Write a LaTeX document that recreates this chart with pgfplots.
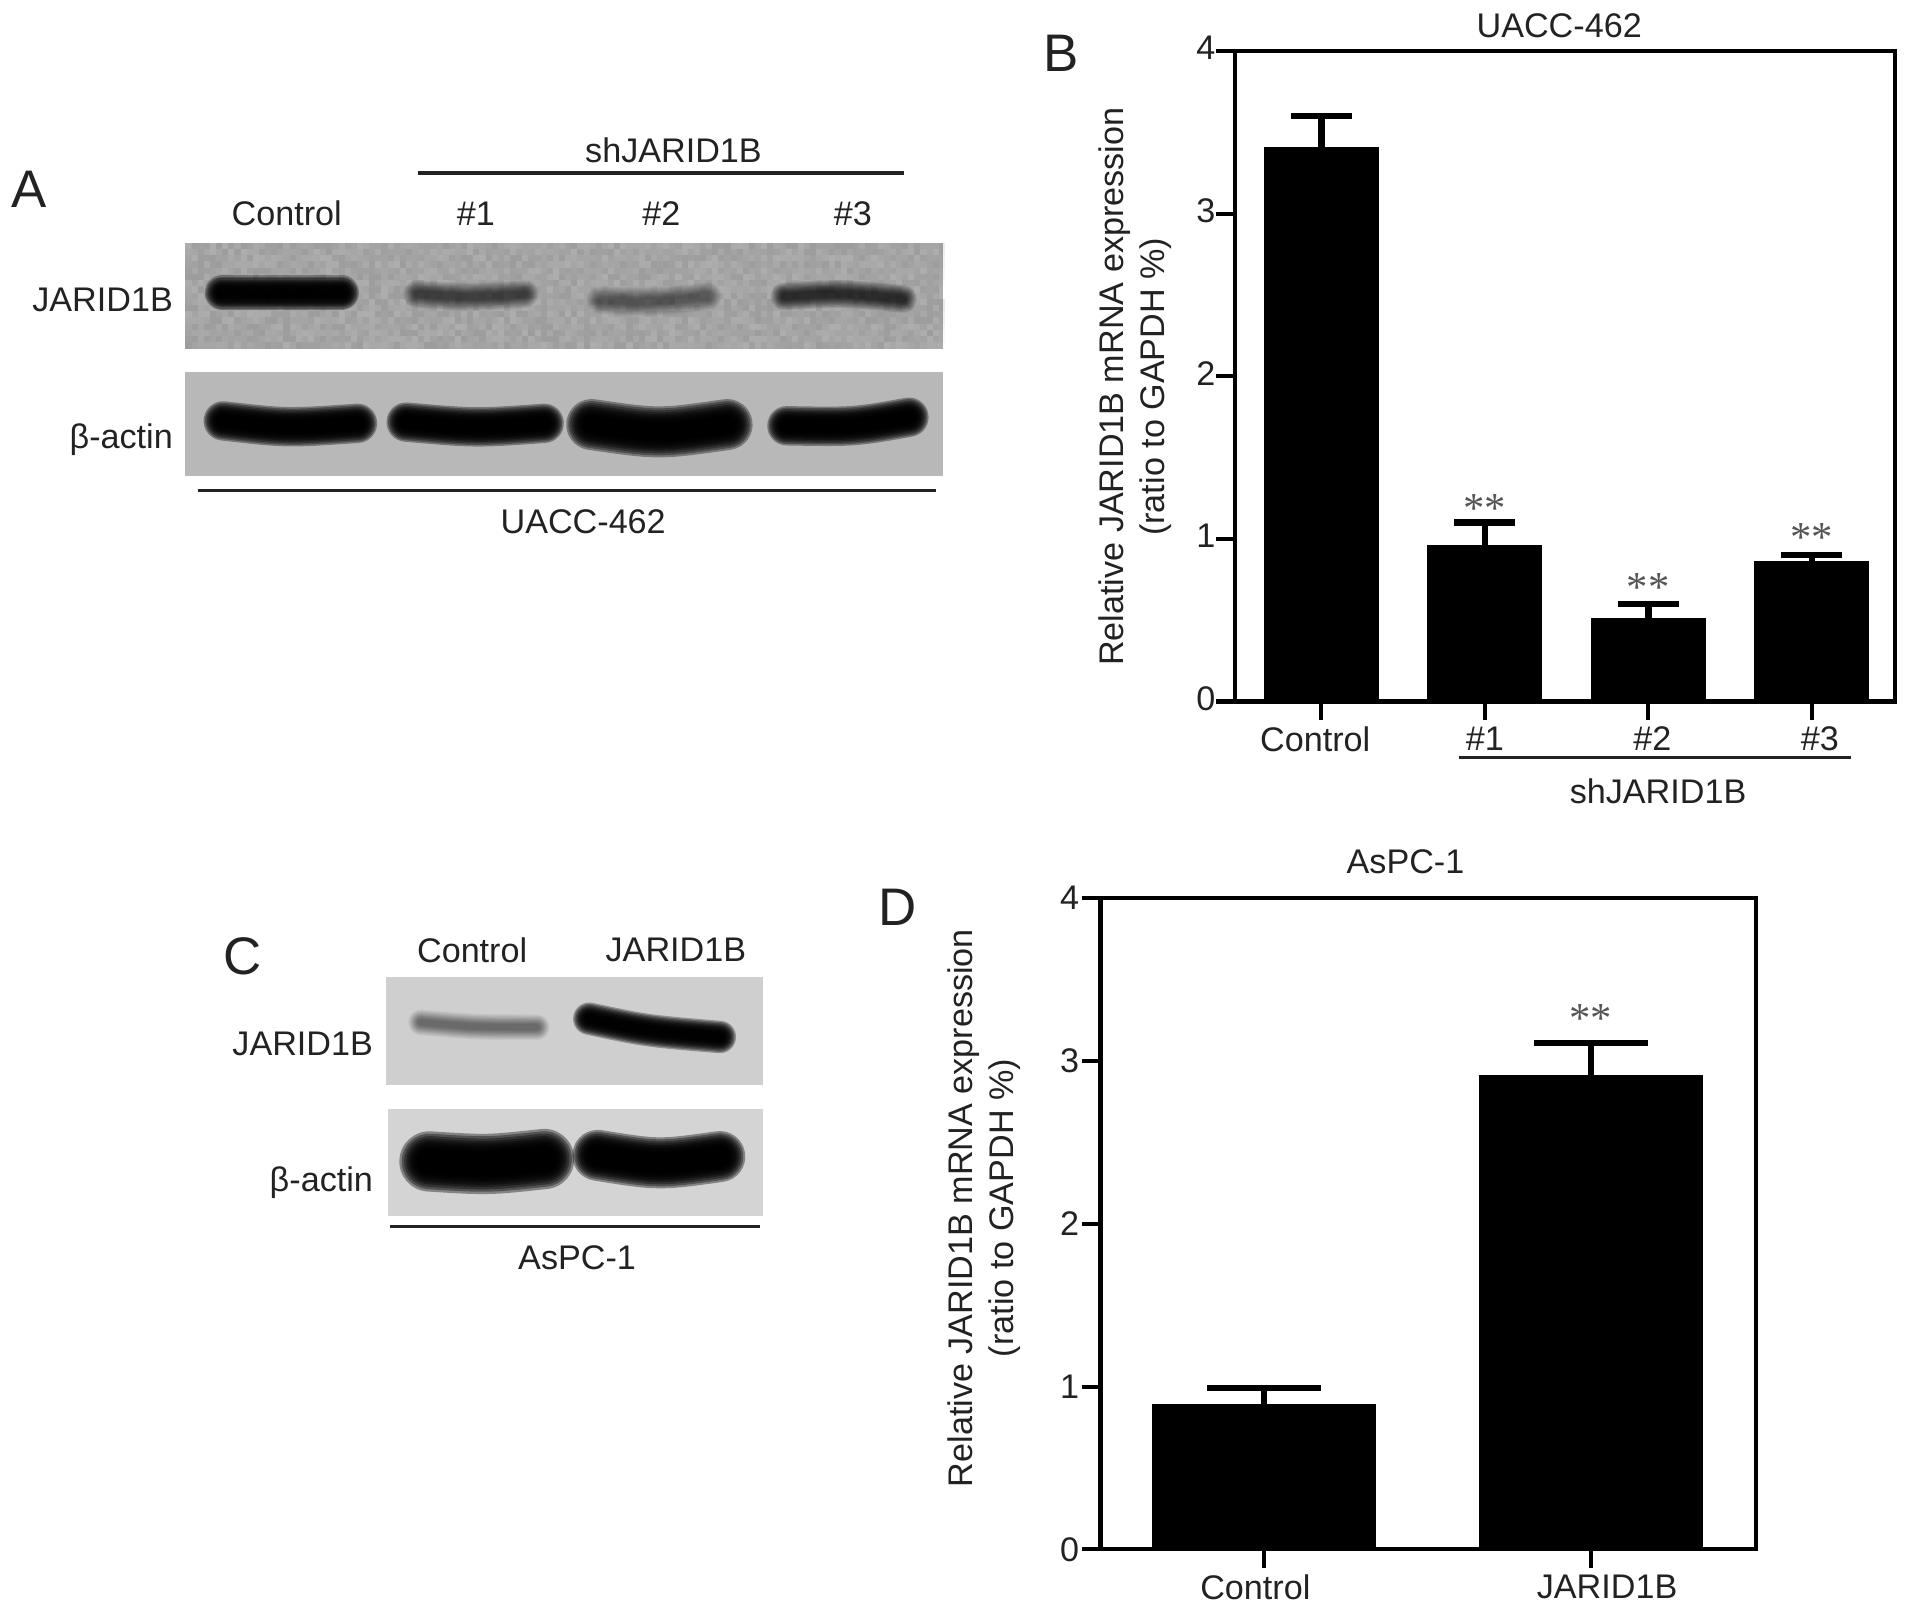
\documentclass[border=0pt]{standalone}
\usepackage{pgfplots}
\pgfplotsset{compat=1.18}
\usepackage{fontspec}
\setmainfont{Liberation Sans}
\newfontfamily\starfont{Liberation Serif}
\definecolor{txt}{HTML}{222222}
\definecolor{star}{HTML}{555555}
\newcommand\lab{\fontsize{16.8}{20}\selectfont}
\newcommand\letterfont{\fontsize{26}{30}\selectfont}
\newcommand\band[3]{\foreach \k in {1.9,1.75,1.6,1.45,1.32,1.2,1.08,0.96,0.84,0.72,0.6,0.45}{\draw[line width=\k*#2*0.6pt, line cap=round, line join=round, black, opacity=#3] #1;}}
\newcommand\stars[2]{\node[star, font=\starfont\fontsize{21}{24}\selectfont, inner sep=0pt] at (axis cs:#1,#2) {**};}
\pgfplotsset{panel/.style={
  scale only axis, ybar, bar shift=0pt,
  ymin=0, ymax=4, ytick={0,1,2,3,4},
  xtick=data, xtick pos=bottom, ytick pos=left,
  tick align=outside, major tick length=9pt,
  axis line style={line width=2pt, black},
  tick style={line width=2pt, black},
  every tick label/.append style={font=\lab, text=txt},
  /pgf/number format/assume math mode=true,
  ylabel style={font=\lab, text=txt, align=center},
  clip=false,
}}
\begin{document}
\begin{tikzpicture}
\path[use as bounding box] (0,0) rectangle (940.8pt,793.8pt);

% Panel B
\begin{axis}[panel, at={(607.2pt,448.8pt)}, anchor=south west, width=324.6pt, height=319.8pt,
  xmin=-0.53, xmax=3.507, bar width=0.678,
  xticklabels={Control\hspace{6pt}\mbox{},\#1,\hspace{4pt}\#2,\hspace{8pt}\#3},
  yticklabel style={xshift=3pt, yshift=1.5pt},
  ylabel={Relative JARID1B mRNA expression\\(ratio to GAPDH \%)},
  ylabel style={at={(ticklabel cs:0.484)}},
  ylabel shift=5.5pt]
\addplot[fill=black, draw=black, line width=2pt,
  error bars/.cd, y dir=plus, y explicit,
  error bar style={line width=3.2pt, black},
  error mark options={rotate=90, line width=3.2pt, mark size=15pt, black}]
  coordinates {(0,3.4)+-(0,0.2) (1,0.95)+-(0,0.15) (2,0.5)+-(0,0.1) (3,0.85)+-(0,0.05)};
\stars{1}{1.186}\stars{2}{0.698}\stars{3}{1.006}
\end{axis}

% Panel D
\begin{axis}[panel, at={(541.2pt,31.8pt)}, anchor=south west, width=322.2pt, height=320.4pt,
  xmin=-0.5, xmax=1.504, bar width=0.674,
  xticklabels={Control\hspace{8.4pt}\mbox{},\hspace{16pt}JARID1B},
  yticklabel style={xshift=2pt},
  ylabel={Relative JARID1B mRNA expression\\(ratio to GAPDH \%)},
  ylabel style={at={(ticklabel cs:0.524)}},
  ylabel shift=12.5pt]
\addplot[fill=black, draw=black, line width=2pt,
  error bars/.cd, y dir=plus, y explicit,
  error bar style={line width=3.2pt, black},
  error mark options={rotate=90, line width=3.2pt, mark size=28pt, black}]
  coordinates {(0,0.88)+-(0,0.11) (1,2.9)+-(0,0.21)};
\stars{1}{3.26}
\end{axis}

% Decorations, in the reference's 1568x1323 coordinates
\begin{scope}[x=0.6pt,y=-0.6pt,yshift=793.8pt]
\tikzset{every node/.append style={font=\lab, text=txt, inner sep=0pt}}
% blot backgrounds
\fill[black!32] (152,199) rectangle (773,286);
\foreach \i in {0,...,123}{\foreach \j in {0,...,16}{
  \pgfmathtruncatemacro\v{mod(\i*7+\j*13+mod(\i*\j,7)*5+mod(\i*\i,17),11)}
  \pgfmathsetmacro\o{\v*0.009}
  \fill[black, opacity=\o] (152+\i*5.02,199+\j*5.1) rectangle +(5.02,5.1);}}
\fill[black!28] (152,305) rectangle (773,390);
\fill[black!19] (316,801) rectangle (625,889);
\fill[black!17] (318,909) rectangle (625,997);
% bands A top
\band{(182,240)--(280,240)}{15}{0.3}
\band{(342,241) .. controls (385,244) .. (430,241)}{12}{0.075}
\band{(492,246) .. controls (535,248) .. (580,243)}{12}{0.05}
\band{(643,243) .. controls (690,240) .. (740,245)}{12}{0.1}
% bands A bottom
\band{(183,345) .. controls (235,351) .. (293,347)}{17}{0.35}
\band{(333,346) .. controls (390,351) .. (446,347)}{17}{0.35}
\band{(485,348) .. controls (540,356) .. (596,348)}{22}{0.35}
\band{(645,349) .. controls (700,350) .. (745,342)}{17}{0.35}
% bands C top
\band{(345,838) .. controls (390,842) .. (440,842)}{11}{0.05}
\band{(483,835) .. controls (530,845) .. (590,850)}{14}{0.3}
% bands C bottom
\band{(352,952) .. controls (400,955) .. (446,950)}{26}{0.38}
\band{(490,947) .. controls (540,955) .. (590,948)}{22}{0.38}
% rules
\draw[line width=1.8pt, txt] (343,142)--(741,142);
\draw[line width=1.5pt, txt] (162,402)--(767,402);
\draw[line width=1.5pt, txt] (320,1005)--(623,1005);
\draw[line width=1.5pt, txt] (1196,621)--(1517,621);
% texts
\node[font=\letterfont] at (24,155) {A};
\node[font=\letterfont] at (870,44) {B};
\node[font=\letterfont] at (199,784) {C};
\node[font=\letterfont] at (736,744) {D};
\node at (552,123) {shJARID1B};
\node at (235,175) {Control};
\node at (390,175) {\#1};
\node at (542,175) {\#2};
\node at (699,175) {\#3};
\node[anchor=east] at (142,246) {JARID1B};
\node[anchor=east] at (142,360) {β-actin};
\node at (478,428) {UACC-462};
\node at (1278,21) {UACC-462};
\node at (1359,649) {shJARID1B};
\node at (1152,706) {AsPC-1};
\node at (387,779) {Control};
\node at (554,779) {JARID1B};
\node[anchor=east] at (306,856) {JARID1B};
\node[anchor=east] at (306,969) {β-actin};
\node at (473,1031) {AsPC-1};
\end{scope}
\end{tikzpicture}
\end{document}
